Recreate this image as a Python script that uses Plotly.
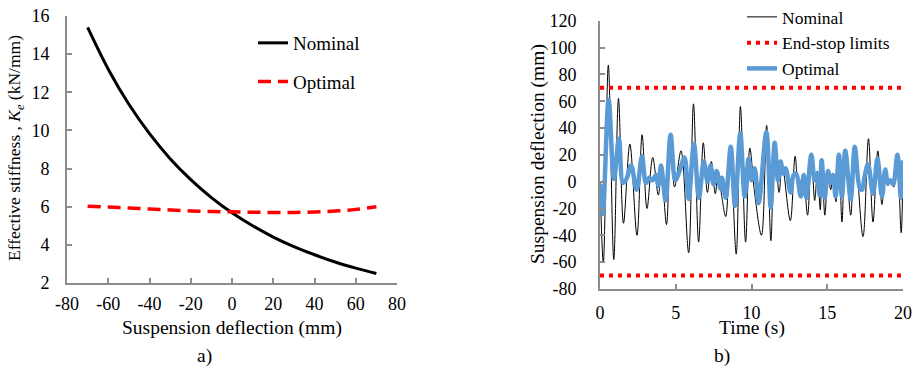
import plotly.graph_objects as go

# ---------- Panel a) data ----------
deflection = [-70, -60, -50, -40, -30, -20, -10, 0, 10, 20, 30, 40, 50, 60, 70]
k_nominal = [15.4, 13.21, 11.37, 9.83, 8.52, 7.42, 6.48, 5.68, 5.0, 4.41, 3.91, 3.48, 3.10, 2.78, 2.5]
k_optimal = [6.03, 5.98, 5.93, 5.88, 5.83, 5.78, 5.75, 5.73, 5.71, 5.70, 5.70, 5.72, 5.77, 5.86, 6.0]
x_ticks_a = [-80, -60, -40, -20, 0, 20, 40, 60, 80]
y_ticks_a = [2, 4, 6, 8, 10, 12, 14, 16]

# ---------- Panel b) data ----------
t_nom = [0.00, 0.22, 0.55, 0.91, 1.22, 1.55, 1.97, 2.44, 2.78, 3.10, 3.48, 3.85, 4.05, 4.39,
         4.66, 4.92, 5.35, 5.85, 6.17, 6.51, 6.82, 7.09, 7.35, 7.61, 7.80, 8.00, 8.30, 8.60,
         8.99, 9.27, 9.61, 9.89, 10.20, 10.66, 11.00, 11.28, 11.53, 11.82, 12.03, 12.56, 12.88,
         13.11, 13.40, 13.70, 13.95, 14.17, 14.35, 14.54, 14.65, 14.84, 15.05, 15.23, 15.38,
         15.57, 15.78, 15.97, 16.19, 16.55, 16.81, 17.36, 17.72, 18.02, 18.34, 18.61, 18.83,
         19.00, 19.20, 19.40, 19.62, 19.88, 20.00]
v_nom = [0, -60, 87, -58, 62, -31, 28, -40, 35, -20, 18, -10, 8, -32,
         35, -4, 23, -53, 58, -45, 29, -8, 15, -9, 8, -8, -26, 24,
         -54, 56, -45, 25, -8, -40, 42, -44, 28, -8, 12, -29, 19,
         -6, 5, -25, 21, -14, 8, -21, 17, -25, 4, -6, 5,
         -15, 20, -30, 23, -25, 26, -41, 32, -30, 23, -17, 6,
         -3, 1, -4, 20, -38, 15]

t_opt = [0.00, 0.18, 0.57, 0.92, 1.25, 1.52, 1.75, 2.05, 2.42, 2.77, 3.03, 3.25, 3.45, 3.70,
         3.85, 4.03, 4.33, 4.66, 4.97, 5.25, 5.58, 5.85, 6.20, 6.53, 6.85, 7.10, 7.30, 7.50,
         7.70, 7.95, 8.05, 8.30, 8.63, 8.91, 9.26, 9.55, 9.81, 10.00, 10.21, 10.47, 10.98,
         11.27, 11.53, 11.75, 11.92, 12.10, 12.25, 12.58, 12.78, 12.95, 13.25, 13.45, 13.62,
         13.95, 14.17, 14.32, 14.50, 14.63, 14.83, 15.05, 15.22, 15.38, 15.55, 15.77, 15.97,
         16.19, 16.55, 16.82, 17.15, 17.30, 17.45, 17.69, 18.02, 18.31, 18.61, 18.83, 19.00,
         19.15, 19.35, 19.63, 19.86, 20.00]
v_opt = [-2, -24, 61, 2, 32, -1, 2, 12, -6, 19, -1, 3, 1, 5,
         -3, 12, -14, 35, 1, 8, 18, -13, 28, -12, 15, 0, 12, -2,
         8, -5, 3, -12, 26, -18, 36, -11, 17, 1, 10, -16, 37,
         -19, 29, 1, 15, 6, 10, -8, 5, 6, -11, 5, -12,
         20, 1, 6, -10, 16, -12, 8, -1, 5, -11, 20, -11,
         23, -13, 26, -5, -6, 3, 13, -9, 17, -11, 9, -1,
         1, -2, 20, -12, 16]

t_limits = [0, 20]
upper_limit = [70, 70]
lower_limit = [-70, -70]
x_ticks_b = [0, 5, 10, 15, 20]
y_ticks_b = [-80, -60, -40, -20, 0, 20, 40, 60, 80, 100, 120]

FONT = "Liberation Serif"
AXIS_GRAY = "#8c8c8c"
W, H = 916, 366


def px(x):
    return x / W


def py(y):
    return 1 - y / H


def labels(vals):
    return [str(v) for v in vals]  # plain hyphen-minus like the reference


fig = go.Figure()

# Panel a
fig.add_trace(go.Scatter(x=deflection, y=k_nominal, mode="lines", name="Nominal",
                         line=dict(color="black", width=3, shape="spline"),
                         xaxis="x", yaxis="y", legend="legend", legendgroup="a1"))
fig.add_trace(go.Scatter(x=deflection, y=k_optimal, mode="lines", name="Optimal",
                         line=dict(color="#ff0000", width=3.5, dash="13px,7px", shape="spline"),
                         xaxis="x", yaxis="y", legend="legend", legendgroup="a2"))

# Panel b
fig.add_trace(go.Scatter(x=t_nom, y=v_nom, mode="lines", name="Nominal",
                         line=dict(color="black", width=1, shape="spline", smoothing=1.0),
                         xaxis="x2", yaxis="y2", legend="legend2"))
fig.add_trace(go.Scatter(x=t_limits, y=upper_limit, mode="lines", name="End-stop limits",
                         line=dict(color="#ff0000", width=4, dash="4px,5px"),
                         xaxis="x2", yaxis="y2", legend="legend2"))
fig.add_trace(go.Scatter(x=t_limits, y=lower_limit, mode="lines", name="End-stop limits",
                         line=dict(color="#ff0000", width=4, dash="4px,5px"),
                         xaxis="x2", yaxis="y2", legend="legend2", showlegend=False))
fig.add_trace(go.Scatter(x=t_opt, y=v_opt, mode="lines", name="Optimal",
                         line=dict(color="#5b9bd5", width=4.5, shape="spline", smoothing=1.0),
                         xaxis="x2", yaxis="y2", legend="legend2"))

axis_common = dict(showgrid=False, zeroline=False, showline=True, linecolor=AXIS_GRAY,
                   linewidth=2, ticks="inside", ticklen=5, tickwidth=2, tickcolor=AXIS_GRAY,
                   automargin=False, tickmode="array",
                   tickfont=dict(family=FONT, size=18, color="black"))

fig.update_layout(
    width=W, height=H,
    margin=dict(l=0, r=0, t=0, b=0, autoexpand=False),
    paper_bgcolor="white", plot_bgcolor="white",
    font=dict(family=FONT, size=18, color="black"),
    xaxis=dict(domain=[px(67), px(397)], range=[-80, 80], tickvals=x_ticks_a,
               ticktext=labels(x_ticks_a), anchor="y", ticklabelstandoff=3, **axis_common),
    yaxis=dict(domain=[py(283), py(16)], range=[2, 16], tickvals=y_ticks_a,
               ticktext=labels(y_ticks_a), anchor="x", ticklabelstandoff=12, **axis_common),
    xaxis2=dict(domain=[px(600), px(903)], range=[0, 20], tickvals=x_ticks_b,
                ticktext=labels(x_ticks_b), anchor="y2", ticklabelstandoff=6, **axis_common),
    yaxis2=dict(domain=[py(289), py(20.7)], range=[-80, 120], tickvals=y_ticks_b,
                ticktext=labels(y_ticks_b), anchor="x2", ticklabelstandoff=18, **axis_common),
    legend=dict(x=px(253), y=py(24), xanchor="left", yanchor="top", bgcolor="rgba(0,0,0,0)",
                font=dict(family=FONT, size=19), tracegroupgap=11,
                traceorder="grouped"),
    legend2=dict(x=px(742), y=py(-1), xanchor="left", yanchor="top", bgcolor="rgba(0,0,0,0)",
                 font=dict(family=FONT, size=17.5), traceorder="normal"),
    showlegend=True,
)

annotations = [
    dict(text="Suspension deflection (mm)", x=px(232), y=py(328), size=19.5),
    dict(text="Effective stiffness , <i>K<sub>e</sub></i> (kN/mm)", x=px(15), y=py(148),
         textangle=-90, size=17.5),
    dict(text="a)", x=px(204), y=py(356), size=19.5),
    dict(text="Time (s)", x=px(752), y=py(328), size=19.5),
    dict(text="Suspension deflection (mm)", x=px(538), y=py(154), textangle=-90, size=19.5),
    dict(text="b)", x=px(722), y=py(356), size=19.5),
]
for a in annotations:
    size = a.pop("size")
    fig.add_annotation(xref="paper", yref="paper", showarrow=False,
                       xanchor="center", yanchor="middle",
                       font=dict(family=FONT, size=size, color="black"), **a)

# remove the browser's default 8px body margin so the figure sits at the page origin
fig.write_html("out.html", config={"displayModeBar": False},
               post_script="document.body.style.margin='0';")
